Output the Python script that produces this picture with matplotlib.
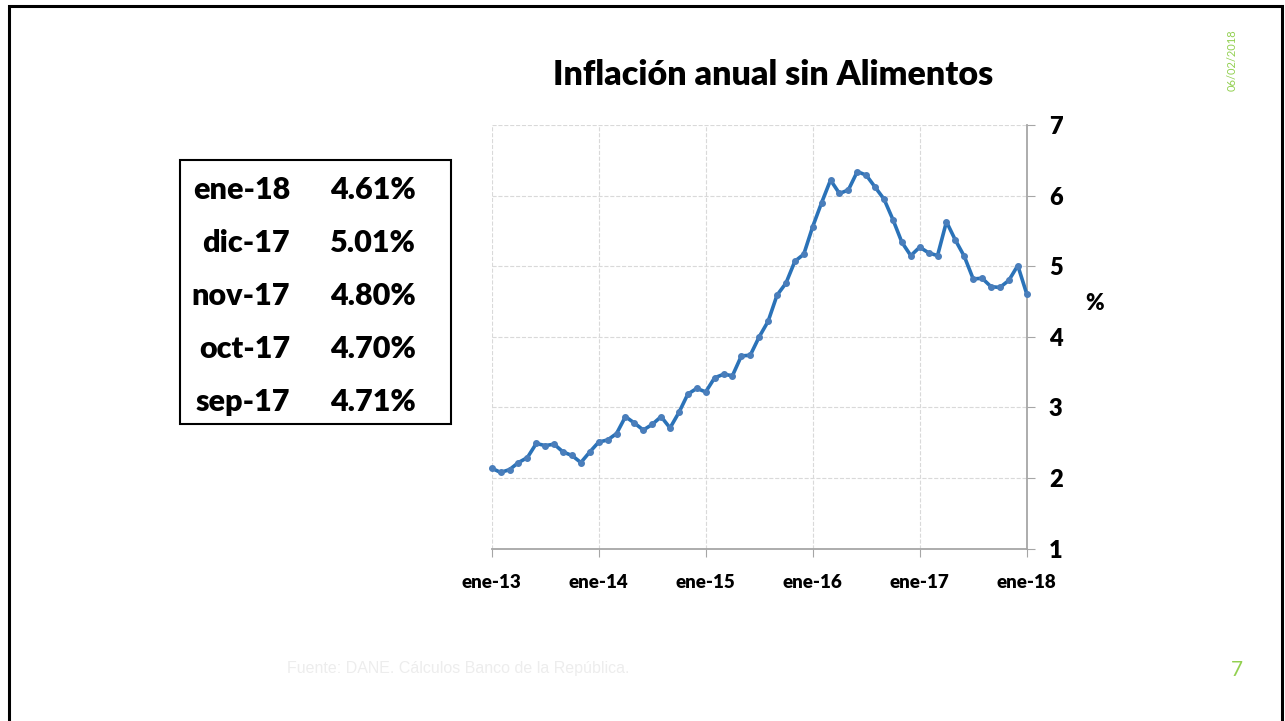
import numpy as np
import matplotlib
matplotlib.use('Agg')
import matplotlib.pyplot as plt
from matplotlib.patches import Rectangle

plt.rcParams['font.family'] = ['Lato', 'DejaVu Sans']

# annual core inflation (ex food), monthly from ene-13 to ene-18
inflacion = [2.14, 2.08, 2.12, 2.22, 2.29, 2.49, 2.46, 2.48, 2.37, 2.32, 2.22, 2.37,
             2.51, 2.54, 2.63, 2.87, 2.78, 2.68, 2.76, 2.87, 2.71, 2.93, 3.19, 3.27,
             3.22, 3.42, 3.47, 3.45, 3.73, 3.74, 4.00, 4.22, 4.59, 4.76, 5.07, 5.17,
             5.56, 5.90, 6.22, 6.03, 6.08, 6.34, 6.29, 6.12, 5.95, 5.66, 5.34, 5.15,
             5.27, 5.19, 5.15, 5.63, 5.37, 5.14, 4.82, 4.83, 4.71, 4.70, 4.80, 5.01,
             4.61]
meses = np.arange(len(inflacion))
tick_pos = [0, 12, 24, 36, 48, 60]
tick_lab = ['ene-13', 'ene-14', 'ene-15', 'ene-16', 'ene-17', 'ene-18']

# summary box
tabla_mes = ['ene-18', 'dic-17', 'nov-17', 'oct-17', 'sep-17']
tabla_val = ['4.61%', '5.01%', '4.80%', '4.70%', '4.71%']

W, H = 1285, 721
fig = plt.figure(figsize=(W/100, H/100), dpi=100)

# slide frame
fig.patches.append(Rectangle((9/W, -0.05), (1282-9)/W, 1.05 - 6/H, transform=fig.transFigure,
                             fill=False, edgecolor='black', linewidth=2.2))

ax = fig.add_axes([491.7/W, 1-548.7/H, (1026.7-491.7)/W, (548.7-125)/H])
ax.plot(meses, inflacion, color='#2A72B8', linewidth=2.6, marker='o',
        markersize=4, markerfacecolor='#4A7EBB', markeredgecolor='#4A7EBB',
        zorder=3, clip_on=False)

ax.set_xlim(0, 60)
ax.set_ylim(1, 7)
ax.set_xticks(tick_pos)
ax.set_xticklabels(tick_lab, fontsize=13.5, fontweight='heavy')
ax.set_yticks(range(1, 8))
ax.yaxis.tick_right()
ax.tick_params(axis='y', labelsize=17, length=6, color='#A6A6A6', pad=10)
ax.tick_params(axis='x', length=6, color='#A6A6A6', pad=12)
for t in ax.get_yticklabels():
    t.set_fontweight('heavy')
ax.grid(True, linestyle='--', color='#D9D9D9', linewidth=0.8)
for s in ['top', 'left']:
    ax.spines[s].set_visible(False)
for s in ['right', 'bottom']:
    ax.spines[s].set_color('#A6A6A6')
    ax.spines[s].set_linewidth(1.3)

fig.text(1095/W, 1-303/H, '%', fontsize=16, fontweight='heavy', ha='center', va='center')
fig.text(773/W, 1-75/H, 'Inflación anual sin Alimentos', fontsize=24.5, fontweight='heavy',
         ha='center', va='center')

# box with latest values
fig.patches.append(Rectangle((180/W, 1-424/H), (451-180)/W, (424-160)/H,
                             transform=fig.transFigure, fill=False,
                             edgecolor='black', linewidth=1.5))
for i, (m, v) in enumerate(zip(tabla_mes, tabla_val)):
    yy = 1 - (190 + i*53)/H
    fig.text(290/W, yy, m, fontsize=22, fontweight='heavy', ha='right', va='center')
    fig.text(416/W, yy, v, fontsize=22, fontweight='heavy', ha='right', va='center')

fig.text(287/W, 1-668/H, 'Fuente: DANE. Cálculos Banco de la República.', fontsize=11.5,
         color='#EDEDED', ha='left', va='center', family='Liberation Sans')
fig.text(1237/W, 1-670/H, '7', fontsize=15, color='#92D050', ha='center', va='center')
fig.text(1232/W, 1-60/H, '06/02/2018', fontsize=8, color='#92D050', rotation=90,
         ha='center', va='center')

fig.savefig('out.png', dpi=100)
